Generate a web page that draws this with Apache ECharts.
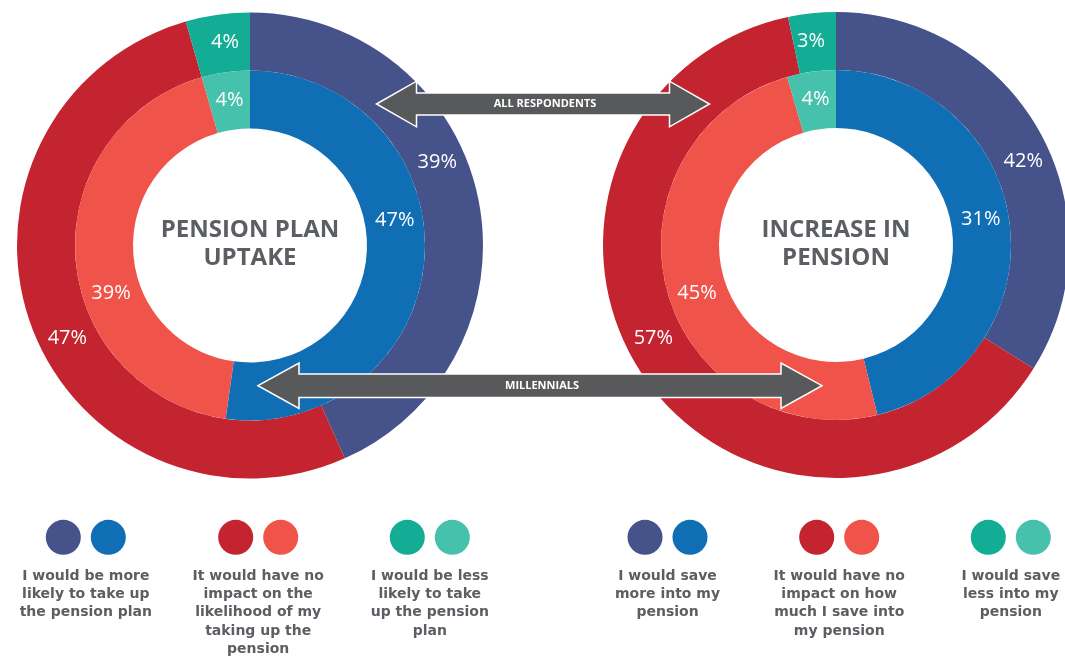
<!DOCTYPE html>
<html>
<head>
<meta charset="utf-8">
<script src="https://cdn.jsdelivr.net/npm/echarts@6/dist/echarts.min.js"></script>
<style>
html,body{margin:0;padding:0;background:#fff;}
#chart{width:1065px;height:657px;}
</style>
</head>
<body>
<div id="chart"></div>
<script>
// ---- data ----
const answerKeys = ['more', 'noImpact', 'less'];
// printed percentages
const leftOuterPct  = [39, 47, 4];   // all respondents, pension plan uptake
const leftInnerPct  = [47, 39, 4];   // millennials, pension plan uptake
const rightOuterPct = [42, 57, 3];   // all respondents, increase in pension
const rightInnerPct = [31, 45, 4];   // millennials, increase in pension
// arc sizes as drawn in the picture (share of the ring)
const leftOuterArc  = [39, 47, 4];
const leftInnerArc  = [47, 39, 4];
const rightOuterArc = [33.9, 62.8, 3.3];
const rightInnerArc = [46.2, 49.3, 4.5];

const leftTitle  = 'PENSION PLAN\nUPTAKE';
const rightTitle = 'INCREASE IN\nPENSION';
const arrowLabels = ['ALL RESPONDENTS', 'MILLENNIALS'];
const leftLegendLabels = [
  'I would be more\nlikely to take up\nthe pension plan',
  'It would have no\nimpact on the\nlikelihood of my\ntaking up the\npension',
  'I would be less\nlikely to take\nup the pension\nplan'
];
const rightLegendLabels = [
  'I would save\nmore into my\npension',
  'It would have no\nimpact on how\nmuch I save into\nmy pension',
  'I would save\nless into my\npension'
];

// ---- styles / layout ----
const outerColors = ['#46538a', '#c3242f', '#13ad96'];
const innerColors = ['#0f6eb4', '#f05349', '#46c1ab'];
const greyText = '#5b5e62';
const arrowFill = '#58595b';
// label placement (degrees clockwise from 12 o'clock, as laid out in the reference)
const outerLabelAngle = [66, 243, -7];
const innerLabelAngle = [80, 251, -8];

const chart = echarts.init(document.getElementById('chart'), null, {renderer: 'canvas'});

function ring(center, radius, arc, pct, colors, labelAngles) {
  const labelR = (radius[0] + radius[1]) / 2 + 1;
  return {
    type: 'pie',
    center: center,
    radius: radius,
    startAngle: 90,
    clockwise: true,
    silent: true,
    animation: false,
    avoidLabelOverlap: false,
    itemStyle: {borderWidth: 0},
    label: {
      show: true,
      position: 'inside',
      color: '#ffffff',
      fontFamily: 'Open Sans',
      fontSize: 20,
      formatter: function (p) { return pct[p.dataIndex] + '%'; }
    },
    labelLayout: function (p) {
      const a = labelAngles[p.dataIndex] * Math.PI / 180;
      return {x: center[0] + labelR * Math.sin(a), y: center[1] - labelR * Math.cos(a)};
    },
    labelLine: {show: false},
    emphasis: {disabled: true},
    data: arc.map(function (v, i) {
      return {name: answerKeys[i], value: v, itemStyle: {color: colors[i]}};
    })
  };
}

const L = [250, 245.5], R = [836, 245];
const outerR = [175, 233], innerR = [117, 175];

function doubleArrow(x1, x2, y, s, H, h) {
  return [
    [x1, y], [x1 + h, y - H], [x1 + h, y - s], [x2 - h, y - s], [x2 - h, y - H],
    [x2, y], [x2 - h, y + H], [x2 - h, y + s], [x1 + h, y + s], [x1 + h, y + H]
  ];
}

const graphics = [];
// centre titles
[[L, leftTitle], [R, rightTitle]].forEach(function (t) {
  graphics.push({
    type: 'text', z: 50,
    style: {
      text: t[1], x: t[0][0], y: t[0][1] - 1,
      textAlign: 'center', textVerticalAlign: 'middle',
      fill: greyText, font: 'bold 24px "Open Sans"', lineHeight: 28
    }
  });
});
// arrows
const arrowDefs = [
  {x1: 376.5, x2: 709.5, y: 104, s: 11, H: 22.8, h: 40},
  {x1: 258, x2: 822, y: 385.7, s: 11.7, H: 22.7, h: 41}
];
arrowDefs.forEach(function (a, i) {
  graphics.push({
    type: 'polygon', z: 60,
    shape: {points: doubleArrow(a.x1, a.x2, a.y, a.s, a.H, a.h)},
    style: {fill: arrowFill, stroke: '#ffffff', lineWidth: 1.5}
  });
  graphics.push({
    type: 'text', z: 61,
    style: {
      text: arrowLabels[i], x: (a.x1 + a.x2) / 2 + 2, y: a.y,
      textAlign: 'center', textVerticalAlign: 'middle',
      fill: '#ffffff', font: 'bold 11px "Open Sans"'
    }
  });
});
// legend
const legendGroups = [
  {xs: [63.3, 235.7, 407.3], labels: leftLegendLabels},
  {xs: [645, 816.7, 988.3], labels: rightLegendLabels}
];
legendGroups.forEach(function (g) {
  g.xs.forEach(function (x, i) {
    graphics.push({type: 'circle', shape: {cx: x, cy: 537.3, r: 17.5}, style: {fill: outerColors[i]}});
    graphics.push({type: 'circle', shape: {cx: x + 45, cy: 537.3, r: 17.5}, style: {fill: innerColors[i]}});
    graphics.push({
      type: 'text',
      style: {
        text: g.labels[i], x: x + 22.5, y: 567,
        textAlign: 'center', textVerticalAlign: 'top',
        fill: greyText, font: 'bold 14px "DejaVu Sans"', lineHeight: 18.3
      }
    });
  });
});

chart.setOption({
  animation: false,
  backgroundColor: '#ffffff',
  series: [
    ring(L, outerR, leftOuterArc, leftOuterPct, outerColors, outerLabelAngle),
    ring(L, innerR, leftInnerArc, leftInnerPct, innerColors, innerLabelAngle),
    ring(R, outerR, rightOuterArc, rightOuterPct, outerColors, outerLabelAngle),
    ring(R, innerR, rightInnerArc, rightInnerPct, innerColors, innerLabelAngle)
  ],
  graphic: graphics
});
</script>
</body>
</html>
